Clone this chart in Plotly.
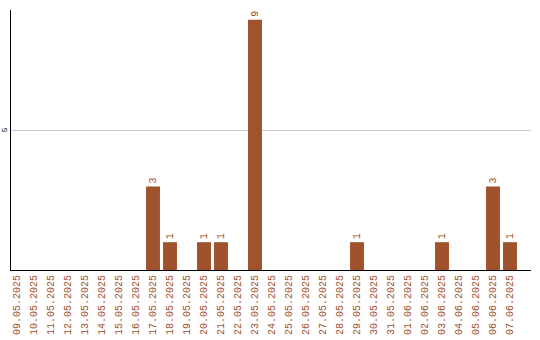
import plotly.graph_objects as go

dates = ["09.05.2025", "10.05.2025", "11.05.2025", "12.05.2025", "13.05.2025",
         "14.05.2025", "15.05.2025", "16.05.2025", "17.05.2025", "18.05.2025",
         "19.05.2025", "20.05.2025", "21.05.2025", "22.05.2025", "23.05.2025",
         "24.05.2025", "25.05.2025", "26.05.2025", "27.05.2025", "28.05.2025",
         "29.05.2025", "30.05.2025", "31.05.2025", "01.06.2025", "02.06.2025",
         "03.06.2025", "04.06.2025", "05.06.2025", "06.06.2025", "07.06.2025"]
counts = [0, 0, 0, 0, 0, 0, 0, 0, 3, 1,
          0, 1, 1, 0, 9, 0, 0, 0, 0, 0,
          1, 0, 0, 0, 0, 1, 0, 0, 3, 1]

BROWN = "#A0522D"
MONO = "Liberation Mono"

labels = [str(v) if v > 0 else "" for v in counts]

fig = go.Figure(go.Bar(
    x=list(range(len(dates))),
    y=counts,
    marker=dict(color=BROWN, line=dict(width=0)),
    text=labels,
    textposition="outside",
    textangle=-90,
    textfont=dict(family=MONO, size=10, color=BROWN),
    cliponaxis=False,
))

fig.update_layout(
    width=540, height=340,
    margin=dict(l=11, r=9, t=10, b=70),
    paper_bgcolor="white", plot_bgcolor="white",
    bargap=0.18,
    showlegend=False,
    xaxis=dict(
        tickmode="array",
        tickvals=list(range(len(dates))),
        ticktext=dates,
        tickangle=-90,
        tickfont=dict(family=MONO, size=10, color=BROWN),
        range=[-0.353, 30.235],
        showgrid=False, zeroline=False,
        showline=True, linecolor="black", linewidth=1,
        ticks="", automargin=False,
    ),
    yaxis=dict(
        range=[0, 9.35],
        tickvals=[5], ticktext=["5"],
        tickangle=-90,
        tickfont=dict(family=MONO, size=8, color="black"),
        showgrid=True, gridcolor="#cccccc", gridwidth=1,
        zeroline=False,
        showline=True, linecolor="black", linewidth=1,
        ticks="", automargin=False, ticklabelstandoff=0,
    ),
)

fig.write_html("out.html")
